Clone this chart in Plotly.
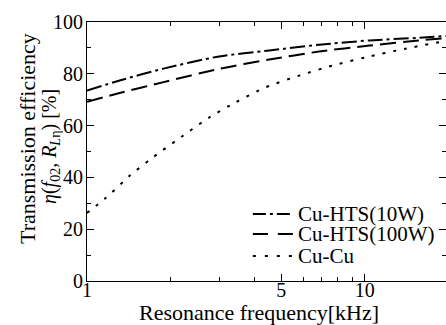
import plotly.graph_objects as go

freq_hts = [1.0, 1.31, 1.87, 2.99, 4.53, 6.84, 10.4, 15.7, 19.6]
hts10 = [73.5, 77.4, 81.9, 86.7, 89.0, 91.2, 92.9, 93.9, 94.6]
hts100 = [69.2, 72.6, 76.7, 81.9, 85.5, 88.6, 90.9, 92.9, 93.8]
freq_cu = [1.0, 1.17, 1.42, 1.72, 2.21, 2.75, 3.43, 4.4, 5.8, 7.66, 10.1, 14.0, 19.6]
cucu = [26.3, 32.1, 40.5, 47.6, 56.0, 63.1, 69.0, 74.8, 79.3, 83.2, 86.4, 89.7, 92.7]

names = ["Cu-HTS(10W)", "Cu-HTS(100W)", "Cu-Cu"]
dashes = ["15px,4px,3px,4px", "16px,7px", "3px,8px"]
legend_dashes = ["13px,4px,3px,4px", "15px,10px", "3px,9px"]

xtick_vals = [1, 5, 10]
xminor_vals = [2, 3, 4, 6, 7, 8, 9]
ytick_vals = [0, 20, 40, 60, 80, 100]

FONT = "Liberation Serif"

fig = go.Figure()
for name, xs, ys, d in zip(names, [freq_hts, freq_hts, freq_cu], [hts10, hts100, cucu], dashes):
    fig.add_trace(go.Scatter(x=xs, y=ys, mode="lines", name=name, showlegend=False,
                             line=dict(color="black", width=2, dash=d, shape="spline", smoothing=0.7)))

# legend drawn as compact rows (sample line + label)
leg_y = [0.259, 0.181, 0.097]
for name, d, yy in zip(names, legend_dashes, leg_y):
    fig.add_shape(type="line", xref="paper", yref="paper", x0=0.462, x1=0.574, y0=yy, y1=yy,
                  line=dict(color="black", width=2, dash=d))
    fig.add_annotation(text=name, xref="paper", yref="paper", x=0.583, y=yy,
                       xanchor="left", yanchor="middle", showarrow=False,
                       font=dict(family=FONT, size=21, color="black"))

# y-axis title (two rotated lines)
fig.add_annotation(text="Transmission efficiency", xref="paper", yref="paper",
                   x=(27 - 87) / 359, y=(281 - 139) / 259, xanchor="center", yanchor="middle",
                   textangle=-90, showarrow=False, font=dict(family=FONT, size=22, color="black"))
fig.add_annotation(text="<i>η</i>(<i>f</i><sub>02</sub>, <i>R</i><sub><i>L</i>η</sub>) [%]",
                   xref="paper", yref="paper",
                   x=(50 - 87) / 359, y=(281 - 147) / 259, xanchor="center", yanchor="middle",
                   textangle=-90, showarrow=False, font=dict(family=FONT, size=20, color="black"))
# x-axis title
fig.add_annotation(text="Resonance frequency[kHz]", xref="paper", yref="paper",
                   x=(259 - 87) / 359, y=(281 - 312) / 259, xanchor="center", yanchor="middle",
                   showarrow=False, font=dict(family=FONT, size=22, color="black"))

fig.update_layout(
    width=446, height=325,
    margin=dict(l=87, r=0, t=22, b=44),
    paper_bgcolor="white", plot_bgcolor="white",
    font=dict(family=FONT, color="black", size=20),
    showlegend=False,
    xaxis=dict(type="log", range=[0, 1.292],
               tickvals=xtick_vals, ticktext=[str(v) for v in xtick_vals],
               ticks="inside", ticklen=7, tickwidth=1, tickcolor="black",
               ticklabelstandoff=-9,
               minor=dict(tickvals=xminor_vals, ticks="inside", ticklen=4,
                          tickcolor="black", tickwidth=1),
               showline=True, linecolor="black", linewidth=1, mirror="ticks",
               showgrid=False, zeroline=False,
               tickfont=dict(size=20, family=FONT)),
    yaxis=dict(range=[0, 100], tickvals=ytick_vals,
               ticks="inside", ticklen=7, tickwidth=1, tickcolor="black",
               ticklabelstandoff=-1,
               minor=dict(dtick=10, ticks="inside", ticklen=4, tickcolor="black", tickwidth=1),
               showline=True, linecolor="black", linewidth=1, mirror="ticks",
               showgrid=False, zeroline=False,
               tickfont=dict(size=20, family=FONT)),
)

fig.write_html("out.html")
